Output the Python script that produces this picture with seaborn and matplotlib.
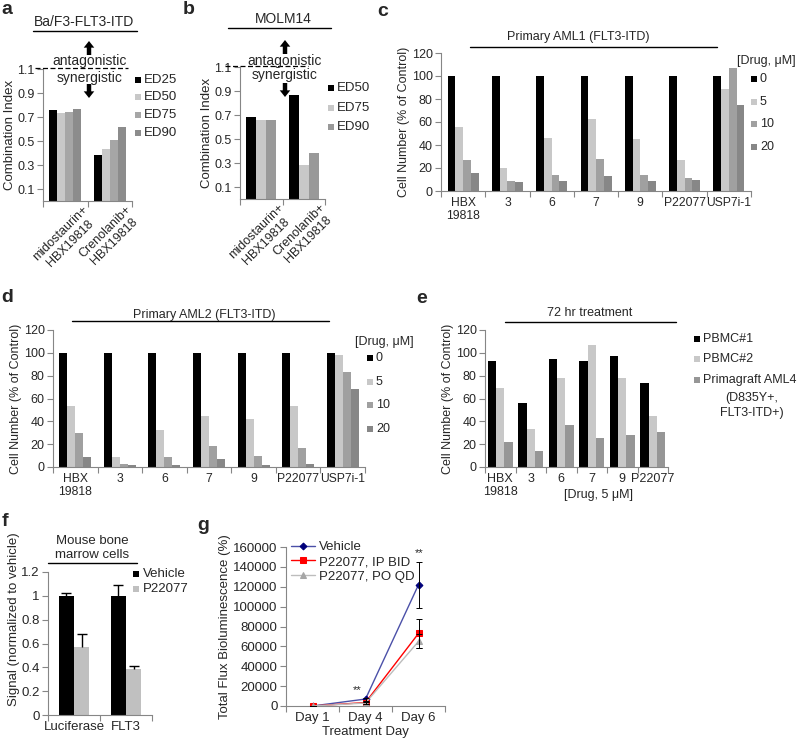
import numpy as np
import pandas as pd
import matplotlib
matplotlib.use("Agg")
import matplotlib.pyplot as plt
import seaborn as sns
from matplotlib.lines import Line2D
from matplotlib.patches import Rectangle, FancyArrowPatch
from matplotlib.ticker import FuncFormatter

# ---------------- data ----------------
ci_groups = ["midostaurin+\nHBX19818", "Crenolanib+\nHBX19818"]
a_levels = ["ED25", "ED50", "ED75", "ED90"]
a_midostaurin = [0.76, 0.73, 0.74, 0.77]
a_crenolanib = [0.38, 0.43, 0.51, 0.62]

b_levels = ["ED50", "ED75", "ED90"]
b_midostaurin = [0.68, 0.66, 0.66]
b_crenolanib = [0.87, 0.28, 0.38]

aml_compounds = ["HBX\n19818", "3", "6", "7", "9", "P22077", "USP7i-1"]
dose_levels = ["0", "5", "10", "20"]
c_dose0 = [100, 100, 100, 100, 100, 100, 100]
c_dose5 = [56, 20, 46, 63, 45, 27, 89]
c_dose10 = [27, 9, 14, 28, 14, 11, 107]
c_dose20 = [16, 8, 9, 13, 9, 10, 75]

d_dose0 = [100, 100, 100, 100, 100, 100, 100]
d_dose5 = [53, 9, 32, 45, 42, 53, 98]
d_dose10 = [30, 3, 9, 18, 10, 17, 83]
d_dose20 = [9, 2, 2, 7, 2, 3, 68]

e_compounds = ["HBX\n19818", "3", "6", "7", "9", "P22077"]
e_samples = ["PBMC#1", "PBMC#2", "Primagraft AML4"]
e_pbmc1 = [93, 56, 95, 93, 97, 74]
e_pbmc2 = [69, 33, 78, 107, 78, 45]
e_aml4 = [22, 14, 37, 25, 28, 31]

f_genes = ["Luciferase", "FLT3"]
f_conditions = ["Vehicle", "P22077"]
f_vehicle = [1.00, 1.00]
f_vehicle_err = [0.025, 0.09]
f_p22077 = [0.57, 0.39]
f_p22077_err = [0.11, 0.02]

g_days = ["Day 1", "Day 4", "Day 6"]
g_series = ["Vehicle", "P22077, IP BID", "P22077, PO QD"]
g_vehicle = [0, 7000, 122000]
g_vehicle_err = [300, 1500, 23000]
g_ip_bid = [0, 3500, 73000]
g_ip_bid_err = [300, 1000, 15000]
g_po_qd = [0, 3000, 65000]
g_po_qd_err = [300, 800, 7000]

# ---------------- style ----------------
sns.set_style("ticks")
plt.rcParams["font.family"] = ["Liberation Sans", "DejaVu Sans"]
plt.rcParams["font.size"] = 9

W, H = 800, 741
fig = plt.figure(figsize=(W / 100, H / 100), dpi=100)
SPINE = "#868686"


def fx(x):
    return x / W


def fy(y):
    return 1 - y / H


def ax_px(x0, y0, x1, y1):
    return fig.add_axes([fx(x0), fy(y1), (x1 - x0) / W, (y1 - y0) / H])


def ftext(x, y, s, **kw):
    kw.setdefault("ha", "center")
    kw.setdefault("va", "center")
    kw.setdefault("fontsize", 9)
    fig.text(fx(x), fy(y), s, **kw)


def fline(x0, x1, y, **kw):
    kw.setdefault("color", "black")
    kw.setdefault("lw", 1.0)
    fig.add_artist(Line2D([fx(x0), fx(x1)], [fy(y), fy(y)], transform=fig.transFigure, **kw))


def farrow(x, y_tail, y_head):
    fig.add_artist(FancyArrowPatch((fx(x), fy(y_tail)), (fx(x), fy(y_head)),
                                   transform=fig.transFigure,
                                   arrowstyle="simple,head_length=0.6,head_width=0.95,tail_width=0.4",
                                   mutation_scale=8, color="black", lw=0,
                                   shrinkA=0, shrinkB=0))


def sq_legend(x_sq, ys, colors, labels, size=6, fs=9, gap=3):
    for y, c, lab in zip(ys, colors, labels):
        fig.add_artist(Rectangle((fx(x_sq), fy(y + size / 2)), size / W, size / H,
                                 transform=fig.transFigure, color=c, lw=0))
        ftext(x_sq + size + gap, y, lab, ha="left", fontsize=fs)


def draw_bars(ax, cats, levels, series, colors, width):
    rows = [(c, l, v) for l, vals in zip(levels, series) for c, v in zip(cats, vals)]
    df = pd.DataFrame(rows, columns=["cat", "lvl", "val"])
    sns.barplot(data=df, x="cat", y="val", hue="lvl", order=cats, hue_order=levels,
                palette=colors, width=width, saturation=1, errorbar=None,
                legend=False, ax=ax, linewidth=0)


def style(ax, labels, ylim, yticks, fmt="%g", rot=False, ylabel="", labelpad=2, tfs=9, xfs=None, lfs=9):
    n = len(labels)
    xfs = tfs if xfs is None else xfs
    ax.set_xlim(-0.5, n - 0.5)
    ax.set_ylim(*ylim)
    ax.set_yticks(yticks)
    ax.yaxis.set_major_formatter(FuncFormatter(lambda v, p: fmt % v))
    ax.set_xticks(np.arange(n))
    if rot:
        ax.set_xticklabels(labels, rotation=45, ha="center", va="top",
                           multialignment="center", fontsize=xfs)
    else:
        ax.set_xticklabels(labels, fontsize=xfs)
    ax.set_xticks(np.arange(n + 1) - 0.5, minor=True)
    ax.tick_params(axis="x", which="major", length=0, pad=4 if not rot else 2)
    ax.tick_params(axis="x", which="minor", length=4, width=0.8, color=SPINE)
    ax.tick_params(axis="y", length=4, width=0.8, color=SPINE, labelsize=tfs, pad=2)
    for s in ["top", "right"]:
        ax.spines[s].set_visible(False)
    for s in ["left", "bottom"]:
        ax.spines[s].set_color(SPINE)
        ax.spines[s].set_linewidth(0.8)
    ax.set_xlabel("")
    ax.set_ylabel(ylabel, fontsize=lfs, labelpad=labelpad)


# ---------------- panel a ----------------
ax_a = ax_px(43, 69, 132, 201)
a_colors = ["#000000", "#c8c8c8", "#a6a6a6", "#8c8c8c"]
a_series = [[m, c] for m, c in zip(a_midostaurin, a_crenolanib)]
draw_bars(ax_a, ci_groups, a_levels, a_series, a_colors, 0.72)
style(ax_a, ci_groups, (0, 1.1), [0.1, 0.3, 0.5, 0.7, 0.9, 1.1], fmt="%.1f", rot=True,
      ylabel="Combination Index", labelpad=1, lfs=9.5)
sq_legend(135, [80, 97, 115, 133], a_colors, a_levels, fs=9.5)
ftext(84, 22, "Ba/F3-FLT3-ITD", fontsize=10)
fline(33, 137, 31)
farrow(89, 55, 41)
ftext(90, 61, "antagonistic", fontsize=10)
fline(35, 128, 68, ls=(0, (4, 2)), lw=0.9)
ftext(90, 78, "synergistic", fontsize=10)
farrow(89, 84, 98)
ftext(7, 10, "a", fontsize=14, fontweight="bold")

# ---------------- panel b ----------------
ax_b = ax_px(240, 67, 325, 199)
b_colors = ["#000000", "#c8c8c8", "#999999"]
b_series = [[m, c] for m, c in zip(b_midostaurin, b_crenolanib)]
draw_bars(ax_b, ci_groups, b_levels, b_series, b_colors, 0.70)
style(ax_b, ci_groups, (0, 1.1), [0.1, 0.3, 0.5, 0.7, 0.9, 1.1], fmt="%.1f", rot=True,
      ylabel="Combination Index", labelpad=1, lfs=9.5)
sq_legend(328, [88, 108, 127], b_colors, b_levels, fs=9.5)
ftext(283, 19, "MOLM14", fontsize=10)
fline(228, 331, 28)
farrow(285, 54, 40)
fline(225, 308, 66, ls=(0, (4, 2)), lw=0.9)
ftext(285, 61, "antagonistic", fontsize=10)
ftext(285, 75, "synergistic", fontsize=10)
farrow(285, 83, 97)
ftext(189, 9, "b", fontsize=14, fontweight="bold")

# ---------------- panel c ----------------
dose_colors = ["#000000", "#c8c8c8", "#a0a0a0", "#878787"]
ax_c = ax_px(441, 53, 751, 191)
draw_bars(ax_c, aml_compounds, dose_levels, [c_dose0, c_dose5, c_dose10, c_dose20], dose_colors, 0.70)
style(ax_c, aml_compounds, (0, 120), np.arange(0, 121, 20), ylabel="Cell Number (% of Control)",
      labelpad=1, xfs=8.7)
ftext(578, 37, "Primary AML1 (FLT3-ITD)")
fline(470, 717, 47)
ftext(766, 61, "[Drug, \u03bcM]")
sq_legend(751, [79, 102, 124, 147], dose_colors, dose_levels)
ftext(383, 12, "c", fontsize=14, fontweight="bold")

# ---------------- panel d ----------------
ax_d = ax_px(53, 330, 365, 467)
draw_bars(ax_d, aml_compounds, dose_levels, [d_dose0, d_dose5, d_dose10, d_dose20], dose_colors, 0.72)
style(ax_d, aml_compounds, (0, 120), np.arange(0, 121, 20), ylabel="Cell Number (% of Control)",
      labelpad=1, xfs=8.7)
ftext(204, 315, "Primary AML2 (FLT3-ITD)")
fline(72, 329, 321)
ftext(384, 342, "[Drug, \u03bcM]")
sq_legend(367, [358, 382, 405, 429], dose_colors, dose_levels)
ftext(7, 297, "d", fontsize=14, fontweight="bold")

# ---------------- panel e ----------------
e_colors = ["#000000", "#c8c8c8", "#969696"]
ax_e = ax_px(485, 330, 668, 467)
draw_bars(ax_e, e_compounds, e_samples, [e_pbmc1, e_pbmc2, e_aml4], e_colors, 0.82)
style(ax_e, e_compounds, (0, 120), np.arange(0, 121, 20), ylabel="Cell Number (% of Control)",
      labelpad=1)
ftext(598, 495, "[Drug, 5 \u03bcM]")
ftext(590, 313, "72 hr treatment")
fline(505, 676, 322)
sq_legend(694, [339, 359, 380], e_colors, e_samples)
ftext(752, 398, "(D835Y+,")
ftext(752, 413, "FLT3-ITD+)")
ftext(422, 299, "e", fontsize=14, fontweight="bold")

# ---------------- panel f ----------------
f_colors = ["#000000", "#c0c0c0"]
ax_f = ax_px(48, 572, 152, 715)
draw_bars(ax_f, f_genes, f_conditions, [f_vehicle, f_p22077], f_colors, 0.58)
style(ax_f, f_genes, (0, 1.2), np.arange(0, 1.21, 0.2), fmt="%g",
      ylabel="Signal (normalized to vehicle)", labelpad=2, tfs=9.5, lfs=9.5)
ax_f.yaxis.set_label_coords(-0.265, 0.67)
for cont, vals, errs in zip(ax_f.containers, [f_vehicle, f_p22077], [f_vehicle_err, f_p22077_err]):
    xs = sorted(p.get_x() + p.get_width() / 2 for p in cont.patches)
    eb = ax_f.errorbar(xs, vals, yerr=[np.zeros(len(vals)), errs], fmt="none",
                       ecolor="black", elinewidth=1, capsize=3.5, capthick=1)
    eb[1][0].set_visible(False)
ftext(92, 541, "Mouse bone", fontsize=9.5)
ftext(92, 555, "marrow cells", fontsize=9.5)
fline(48, 137, 563)
sq_legend(133, [574, 589], f_colors, f_conditions, size=6, fs=9.5, gap=4)
ftext(5, 521, "f", fontsize=14, fontweight="bold")

# ---------------- panel g ----------------
ax_g = ax_px(286, 547, 445, 706)
xi = np.arange(len(g_days))
g_specs = [
    (g_series[0], g_vehicle, g_vehicle_err, "#4b50a8", "#00007a", "D", 3.5),
    (g_series[1], g_ip_bid, g_ip_bid_err, "#ff0000", "#ff0000", "s", 4),
    (g_series[2], g_po_qd, g_po_qd_err, "#bdbdbd", "#a6a6a6", "^", 4),
]
for name, vals, errs, lc, mc, mk, ms in g_specs:
    sns.lineplot(x=xi, y=vals, ax=ax_g, color=lc, marker=mk, markersize=ms,
                 markerfacecolor=mc, markeredgecolor=mc, linewidth=1, label=name)
for name, vals, errs, lc, mc, mk, ms in g_specs:
    ax_g.errorbar(xi, vals, yerr=errs, fmt="none", ecolor="black", elinewidth=0.7,
                  capsize=2.5, capthick=0.7, zorder=5)
style(ax_g, g_days, (0, 160000), np.arange(0, 160001, 20000), fmt="%d",
      ylabel="Total Flux Bioluminescence (%)", labelpad=2, tfs=9.5, lfs=9.5)
ax_g.set_xlabel("Treatment Day", fontsize=9.5, labelpad=2)
ax_g.legend(loc="upper left", bbox_to_anchor=(fx(291), fy(541)), bbox_transform=fig.transFigure,
            frameon=False, handlelength=1.8, handletextpad=0.3, labelspacing=0.2,
            borderpad=0, borderaxespad=0, fontsize=9.5)
ftext(357, 690, "**", fontsize=8)
ftext(419, 553, "**", fontsize=8)
ftext(203, 525, "g", fontsize=14, fontweight="bold")

fig.savefig("out.png", dpi=100)
